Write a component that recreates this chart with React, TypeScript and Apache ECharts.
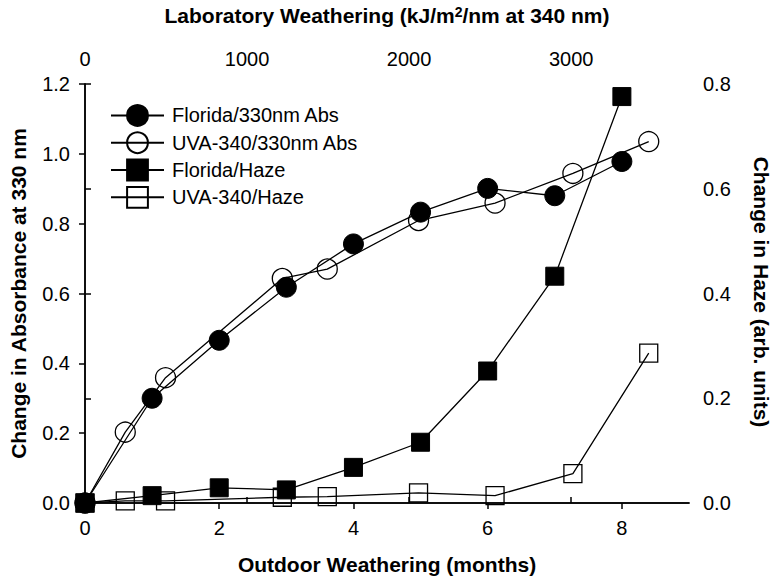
import React, { useEffect, useRef } from 'react';
import * as echarts from 'echarts';

const monthTicks = [0, 2, 4, 6, 8];
const labTicks = [0, 1000, 2000, 3000];
const floridaMonths = [0, 1, 2, 3, 4, 5, 6, 7, 8];
const floridaAbs = [0, 0.3, 0.466, 0.618, 0.742, 0.833, 0.901, 0.88, 0.978];
const floridaHaze = [0, 0.014, 0.029, 0.025, 0.068, 0.116, 0.252, 0.433, 0.776];
const uvaMonths = [0, 0.6, 1.2, 2.94, 3.61, 4.97, 6.11, 7.27, 8.4];
const uvaAbs = [0, 0.203, 0.359, 0.643, 0.67, 0.809, 0.859, 0.944, 1.035];
const uvaHaze = [0, 0.004, 0.004, 0.011, 0.012, 0.0195, 0.014, 0.056, 0.286];

const FONT = '"Liberation Sans", Arial, Helvetica, sans-serif';

const pairs = (xs: number[], ys: number[]) => xs.map((x, i) => [x, ys[i]]);

export default function App() {
  const ref = useRef<HTMLDivElement>(null);
  useEffect(() => {
    if (!ref.current) return;
    const chart = echarts.init(ref.current, undefined, { renderer: 'svg' });
    const axisLine = { show: true, lineStyle: { color: '#000', width: 1.5 } };
    const axisTick = { show: true, length: 6, lineStyle: { color: '#000', width: 1.5 } };
    const label = { color: '#000', fontSize: 20, fontFamily: FONT };
    const nameStyle = { color: '#000', fontSize: 21, fontWeight: 'bold' as const, fontFamily: FONT };
    const lineSeries = (name: string, xs: number[], ys: number[], yIdx: number, symbol: string, size: number, filled: boolean) => ({
      name,
      type: 'line',
      xAxisIndex: 0,
      yAxisIndex: yIdx,
      data: pairs(xs, ys),
      symbol,
      symbolSize: size,
      showAllSymbol: true,
      lineStyle: { color: '#000', width: 1.3 },
      itemStyle: filled
        ? { color: '#000', borderColor: '#000', borderWidth: 1 }
        : { color: 'transparent', borderColor: '#000', borderWidth: 1.3 },
      emphasis: { disabled: true },
    });
    chart.setOption({
      animation: false,
      backgroundColor: '#fff',
      grid: { left: 84, right: 84, top: 81, bottom: 77, containLabel: false },
      legend: {
        orient: 'vertical',
        left: 105,
        top: 99,
        itemWidth: 53,
        itemHeight: 26,
        itemGap: 4.5,
        align: 'left',
        textStyle: { color: '#000', fontSize: 20, fontFamily: FONT, padding: [0, 0, 0, 3] },
        data: ['Florida/330nm Abs', 'UVA-340/330nm Abs', 'Florida/Haze', 'UVA-340/Haze'],
      },
      graphic: [
        {
          type: 'text',
          x: 761,
          y: 292,
          rotation: -Math.PI / 2,
          silent: true,
          style: {
            text: 'Change in Haze (arb. units)',
            fill: '#000',
            fontSize: 21,
            fontWeight: 'bold',
            fontFamily: FONT,
            align: 'center',
            verticalAlign: 'middle',
          },
        },
      ],
      xAxis: [
        {
          type: 'value',
          position: 'bottom',
          min: 0,
          max: 9,
          interval: 1,
          splitLine: { show: false },
          axisLine,
          axisTick: { ...axisTick, customValues: monthTicks },
          axisLabel: { ...label, margin: 15, customValues: monthTicks, formatter: (v: number) => String(v) },
          name: 'Outdoor Weathering (months)',
          nameLocation: 'middle',
          nameGap: 51,
          nameTextStyle: nameStyle,
        },
        {
          type: 'value',
          position: 'top',
          min: 0,
          max: 3727,
          interval: 1000,
          splitLine: { show: false },
          axisLine,
          axisTick: { ...axisTick, customValues: labTicks },
          axisLabel: { ...label, margin: 15, customValues: labTicks, formatter: (v: number) => String(v) },
          name: 'Laboratory Weathering (kJ/m{sup|2}/nm at 340 nm)',
          nameLocation: 'middle',
          nameGap: 58,
          nameTextStyle: {
            ...nameStyle,
            rich: { sup: { color: '#000', fontSize: 14, fontWeight: 'bold', fontFamily: FONT, verticalAlign: 'top' } },
          },
        },
      ],
      yAxis: [
        {
          type: 'value',
          position: 'left',
          min: 0,
          max: 1.2,
          interval: 0.2,
          splitLine: { show: false },
          axisLine,
          axisTick,
          axisLabel: { ...label, margin: 15, formatter: (v: number) => v.toFixed(1) },
          name: 'Change in Absorbance at 330 nm',
          nameLocation: 'middle',
          nameGap: 56,
          nameRotate: 90,
          nameTextStyle: nameStyle,
        },
        {
          type: 'value',
          position: 'right',
          min: 0,
          max: 0.8,
          interval: 0.2,
          splitLine: { show: false },
          axisLine,
          axisTick,
          axisLabel: { ...label, margin: 14, formatter: (v: number) => v.toFixed(1) },
        },
      ],
      series: [
        lineSeries('Florida/330nm Abs', floridaMonths, floridaAbs, 0, 'circle', 20, true),
        lineSeries('UVA-340/330nm Abs', uvaMonths, uvaAbs, 0, 'circle', 20, false),
        lineSeries('Florida/Haze', floridaMonths, floridaHaze, 1, 'rect', 18, true),
        lineSeries('UVA-340/Haze', uvaMonths, uvaHaze, 1, 'rect', 18, false),
      ],
    });
    return () => chart.dispose();
  }, []);
  return <div ref={ref} style={{ position: 'fixed', left: 0, top: 0, width: 773, height: 580 }} />;
}
